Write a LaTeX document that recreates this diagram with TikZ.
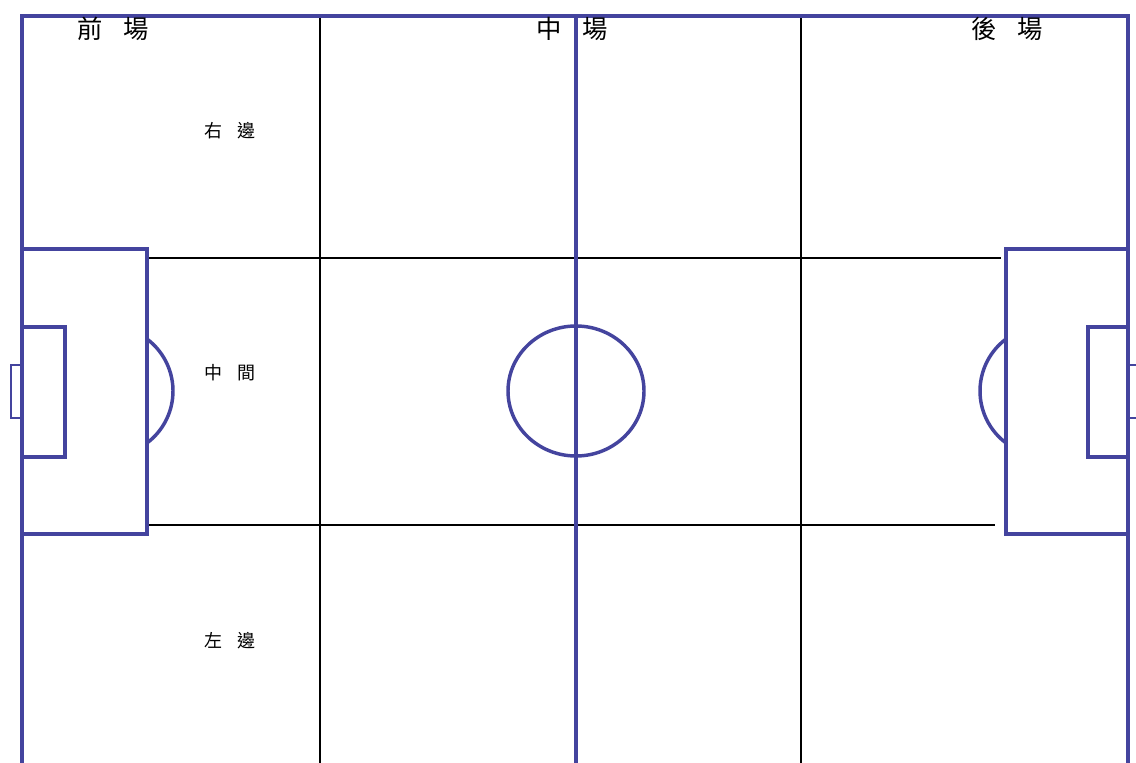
\documentclass[tikz,border=0pt]{standalone}
\usepackage{fontspec}
\newfontfamily\cjk{Noto Sans CJK TC}
\definecolor{pitchblue}{RGB}{68,68,158}
\tikzset{
  pitch/.style={draw=pitchblue, line width=2.6pt},
  goalnet/.style={draw=pitchblue, line width=1.5pt},
  zone/.style={draw=black, line width=1.3pt},
  areatext/.style={font=\cjk\fontsize{19}{19}\selectfont, inner sep=0pt},
  lanetext/.style={font=\cjk\fontsize{13.5}{13.5}\selectfont, inner sep=0pt},
}
\begin{document}
\begin{tikzpicture}[x=0.75pt,y=-0.75pt,line cap=butt,line join=miter]
\useasboundingbox (0,0) rectangle (1136,763);
\clip (0,0) rectangle (1136,763);
% zone grid
\foreach \x in {320,801}{
  \draw[zone] (\x,16) -- (\x,770);
}
\draw[zone] (147,258) -- (1001,258);
\draw[zone] (147,525) -- (995,525);
% pitch outline and halfway line
\draw[pitch] (1128,770) -- (1128,16) -- (22,16) -- (22,770);
\draw[pitch] (576,16) -- (576,770);
\draw[pitch] (576,391) ellipse (68 and 65);
% left end
\draw[pitch] (22,249) -- (147,249) -- (147,534) -- (22,534);
\draw[pitch] (22,327) -- (65,327) -- (65,457) -- (22,457);
\draw[pitch] (147,339) arc[start angle=-53.13, end angle=53.13, radius=65];
\draw[goalnet] (22,365) -- (11,365) -- (11,418) -- (22,418);
% right end
\draw[pitch] (1128,249) -- (1006,249) -- (1006,534) -- (1128,534);
\draw[pitch] (1128,327) -- (1088,327) -- (1088,457) -- (1128,457);
\draw[pitch] (1006,339) arc[start angle=233.13, end angle=126.87, radius=65];
\draw[goalnet] (1128,365) -- (1142,365);
\draw[goalnet] (1128,418) -- (1142,418);
% labels
\node[areatext] (front) at (113,29) {前\hspace{.8em}場};
\node[areatext] (mid) at (572,29) {中\hspace{.8em}場};
\node[areatext] (back) at (1007,29) {後\hspace{.8em}場};
\node[lanetext] (right) at (230,131) {右\hspace{.8em}邊};
\node[lanetext] (centre) at (230,373) {中\hspace{.8em}間};
\node[lanetext] (left) at (230,641) {左\hspace{.8em}邊};
\end{tikzpicture}
\end{document}
